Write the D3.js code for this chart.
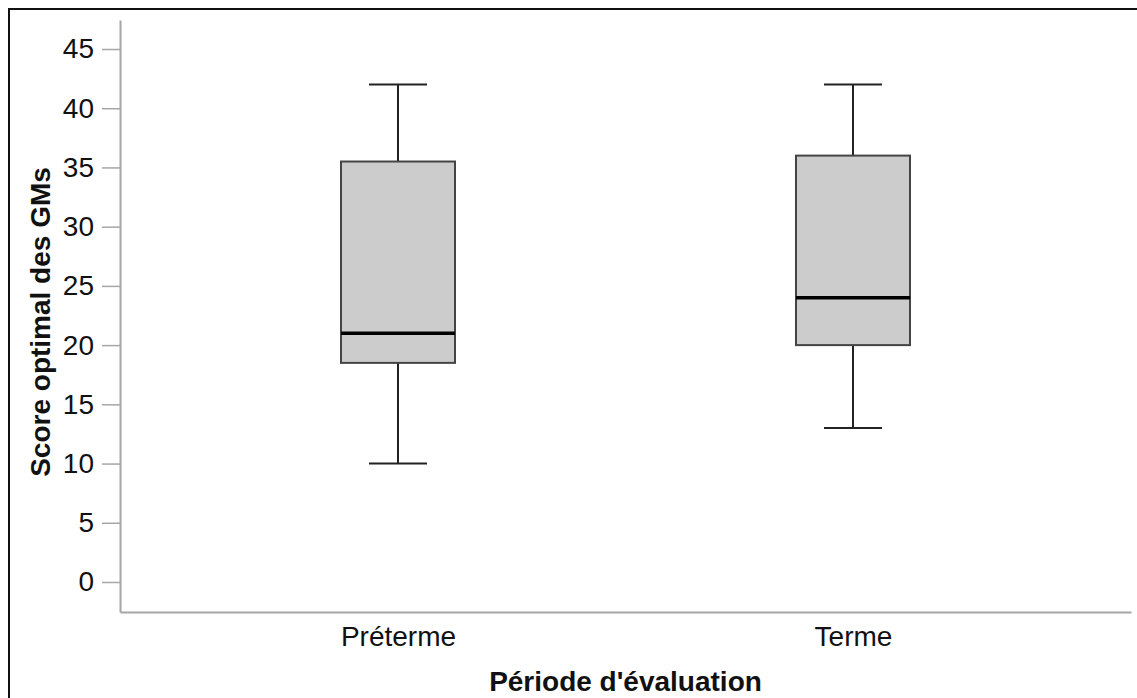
<!DOCTYPE html>
<html>
<head>
<meta charset="utf-8">
<script src="https://cdn.jsdelivr.net/npm/d3@7"></script>
<style>
  html, body { margin: 0; padding: 0; background: #fff; }
  svg { display: block; }
</style>
</head>
<body>
<script>
// ---- data ----
const categories = ["Préterme", "Terme"];
const whiskerLow = [10, 13];
const q1 = [18.5, 20];
const median = [21, 24];
const q3 = [35.5, 36];
const whiskerHigh = [42, 42];
const yTicks = [0, 5, 10, 15, 20, 25, 30, 35, 40, 45];
const xTitle = "Période d'évaluation";
const yTitle = "Score optimal des GMs";

const W = 1137, H = 698;
const font = "'Liberation Sans', Arial, Helvetica, sans-serif";

const svg = d3.select("body").append("svg")
  .attr("width", W).attr("height", H)
  .style("font-family", font);

// outer frame
svg.append("rect")
  .attr("x", 9).attr("y", 9)
  .attr("width", W + 20).attr("height", H + 20)
  .attr("fill", "none").attr("stroke", "#111").attr("stroke-width", 2);

const y = d3.scaleLinear().domain([-2.533, 47.449]).range([612, 20]);
const x = d3.scalePoint().domain(categories).range([120, 1131]).padding(0.611);
const boxW = 114, capW = 58;

// y axis
const yAxis = svg.append("g").attr("transform", "translate(120,0)")
  .call(d3.axisLeft(y).tickValues(yTicks).tickSize(18).tickSizeOuter(0).tickPadding(8));
yAxis.select(".domain").attr("stroke", "#a6a6a6").attr("stroke-width", 2);
yAxis.selectAll(".tick line").attr("stroke", "#a6a6a6").attr("stroke-width", 1.5);
yAxis.selectAll(".tick text").attr("font-size", 28).attr("fill", "#111").style("font-family", font);

// x axis
const xAxis = svg.append("g").attr("transform", "translate(0,612)")
  .call(d3.axisBottom(x).tickSize(0).tickSizeOuter(0).tickPadding(14));
xAxis.select(".domain").attr("stroke", "#a6a6a6").attr("stroke-width", 2);
xAxis.selectAll(".tick text").attr("font-size", 28).attr("fill", "#111").style("font-family", font);

// boxes
const data = categories.map((c, i) => ({
  c, lo: whiskerLow[i], q1: q1[i], med: median[i], q3: q3[i], hi: whiskerHigh[i]
}));
const g = svg.append("g").selectAll("g").data(data).join("g")
  .attr("transform", d => `translate(${x(d.c)},0)`);

// whiskers
g.append("line").attr("x1", 0).attr("x2", 0)
  .attr("y1", d => y(d.hi)).attr("y2", d => y(d.q3))
  .attr("stroke", "#222").attr("stroke-width", 2);
g.append("line").attr("x1", 0).attr("x2", 0)
  .attr("y1", d => y(d.q1)).attr("y2", d => y(d.lo))
  .attr("stroke", "#222").attr("stroke-width", 2);
g.append("line").attr("x1", -capW / 2).attr("x2", capW / 2)
  .attr("y1", d => y(d.hi)).attr("y2", d => y(d.hi))
  .attr("stroke", "#222").attr("stroke-width", 2);
g.append("line").attr("x1", -capW / 2).attr("x2", capW / 2)
  .attr("y1", d => y(d.lo)).attr("y2", d => y(d.lo))
  .attr("stroke", "#222").attr("stroke-width", 2);

// box
g.append("rect")
  .attr("x", -boxW / 2).attr("width", boxW)
  .attr("y", d => y(d.q3)).attr("height", d => y(d.q1) - y(d.q3))
  .attr("fill", "#cccccc").attr("stroke", "#444").attr("stroke-width", 2);

// median
g.append("line").attr("x1", -boxW / 2).attr("x2", boxW / 2)
  .attr("y1", d => y(d.med)).attr("y2", d => y(d.med))
  .attr("stroke", "#000").attr("stroke-width", 3.5);

// titles
svg.append("text")
  .attr("x", (120 + 1131) / 2).attr("y", 691)
  .attr("text-anchor", "middle")
  .attr("font-size", 28).attr("font-weight", "bold").attr("fill", "#111")
  .text(xTitle);

svg.append("text")
  .attr("transform", `translate(50,${(20 + 612) / 2 + 6}) rotate(-90)`)
  .attr("text-anchor", "middle")
  .attr("font-size", 28).attr("font-weight", "bold").attr("fill", "#111")
  .text(yTitle);
</script>
</body>
</html>
